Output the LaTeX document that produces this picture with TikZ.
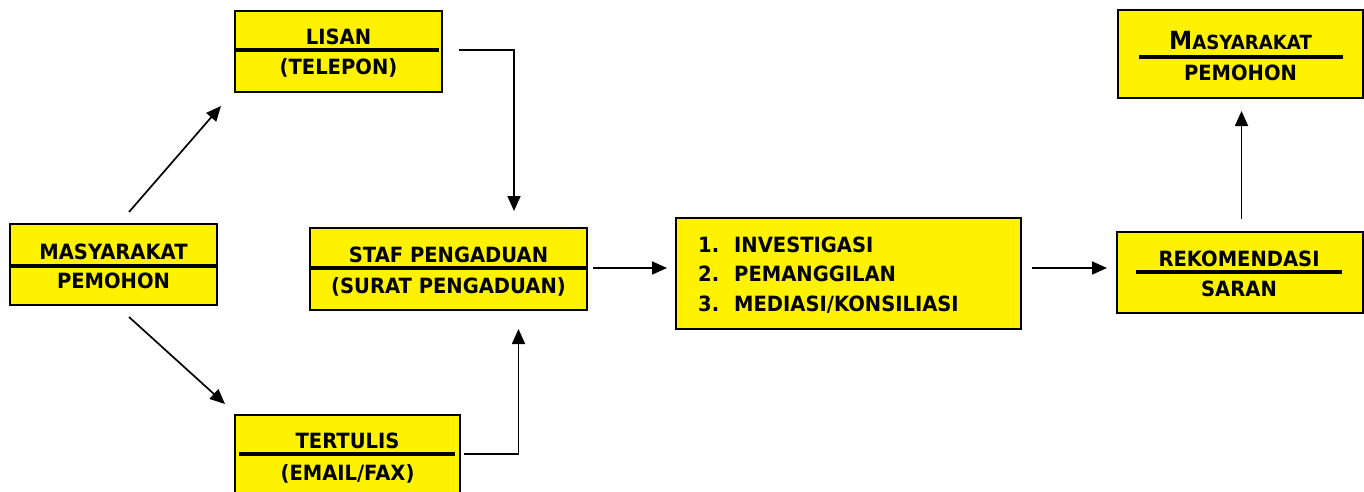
\documentclass[tikz,border=0pt]{standalone}
\usepackage{fontspec}
\setmainfont{DejaVu Sans}[FakeStretch=0.93]
\usetikzlibrary{arrows.meta}

\begin{document}
\begin{tikzpicture}[x=1pt, y=-1pt,
		kotak/.style={draw, fill=yellow, line width=1.5pt, inner sep=0pt},
		garis/.style={line width=3.5pt},
		teks/.style={font=\bfseries\fontsize{21}{25}\selectfont, anchor=base, inner sep=0pt},
		panah/.style={line width=1.7pt, -{Triangle[length=15pt, width=13pt]}}]
	\useasboundingbox (0,0) rectangle (1364,492);

	\node[kotak, minimum width=207, minimum height=81] (masl) at (113.5,264.5) {};
	\node[kotak, minimum width=207, minimum height=81] (lisan) at (338.5,51.5) {};
	\node[kotak, minimum width=277, minimum height=82] (staf) at (448.5,269) {};
	\node[kotak, minimum width=225, minimum height=81] (tertulis) at (347.5,455.5) {};
	\node[kotak, minimum width=345, minimum height=111] (proses) at (848.5,273.5) {};
	\node[kotak, minimum width=246, minimum height=81] (rekom) at (1240,272.5) {};
	\node[kotak, minimum width=245, minimum height=88] (masr) at (1240.5,54) {};

	\draw[garis] (10,266) -- (217,266);
	\draw[garis] (235,50) -- (439,50);
	\draw[garis] (310,268) -- (587,268);
	\draw[garis] (239,454) -- (455,454);
	\draw[garis] (1136,272) -- (1342,272);
	\draw[garis] (1139,57) -- (1343,57);

	\node[teks] (masl-a) at (113.5,259) {MASYARAKAT};
	\node[teks] (masl-b) at (113.5,288) {PEMOHON};
	\node[teks] (lisan-a) at (338.5,45) {LISAN};
	\node[teks] (lisan-b) at (338.5,75) {(TELEPON)};
	\node[teks] (staf-a) at (448.5,262) {STAF PENGADUAN};
	\node[teks] (staf-b) at (448.5,293) {(SURAT PENGADUAN)};
	\node[teks] (tertulis-a) at (347.5,448) {TERTULIS};
	\node[teks] (tertulis-b) at (347.5,480) {(EMAIL/FAX)};
	\node[teks] (rekom-a) at (1239,266) {REKOMENDASI};
	\node[teks] (rekom-b) at (1239,296) {SARAN};
	\node[teks] (masr-a) at (1240.5,50) {{\fontsize{25}{25}\selectfont M}{\fontsize{19.5}{22}\selectfont ASYARAKAT}};
	\node[teks] (masr-b) at (1240.5,81) {PEMOHON};
	\foreach \t [count=\i] in {INVESTIGASI, PEMANGGILAN, {MEDIASI/KONSILIASI}} {
		\node[teks, anchor=base west] (no\i) at (698,222.5+29.5*\i) {\i.};
		\node[teks, anchor=base west] (item\i) at (734,222.5+29.5*\i) {\t};
	}

	\coordinate (masl-up) at (129,212);
	\coordinate (lisan-in) at (221,106);
	\coordinate (masl-down) at (129,317);
	\coordinate (tertulis-in) at (225,404);
	\coordinate (lisan-out) at (459,50);
	\coordinate (staf-top) at (514,211);
	\coordinate (tertulis-out) at (464,454);
	\coordinate (staf-bottom) at (518.5,329);
	\coordinate (staf-out) at (593,268);
	\coordinate (proses-in) at (667,268);
	\coordinate (proses-out) at (1032,268);
	\coordinate (rekom-in) at (1107,268);
	\coordinate (rekom-out) at (1241.5,219);
	\coordinate (masr-in) at (1241.5,111);

	\draw[panah] (masl-up) -- (lisan-in);
	\draw[panah] (masl-down) -- (tertulis-in);
	\draw[panah] (lisan-out) -| (staf-top);
	\draw[panah] (tertulis-out) -| (staf-bottom);
	\draw[panah] (staf-out) -- (proses-in);
	\draw[panah] (proses-out) -- (rekom-in);
	\draw[panah] (rekom-out) -- (masr-in);
\end{tikzpicture}
\end{document}
